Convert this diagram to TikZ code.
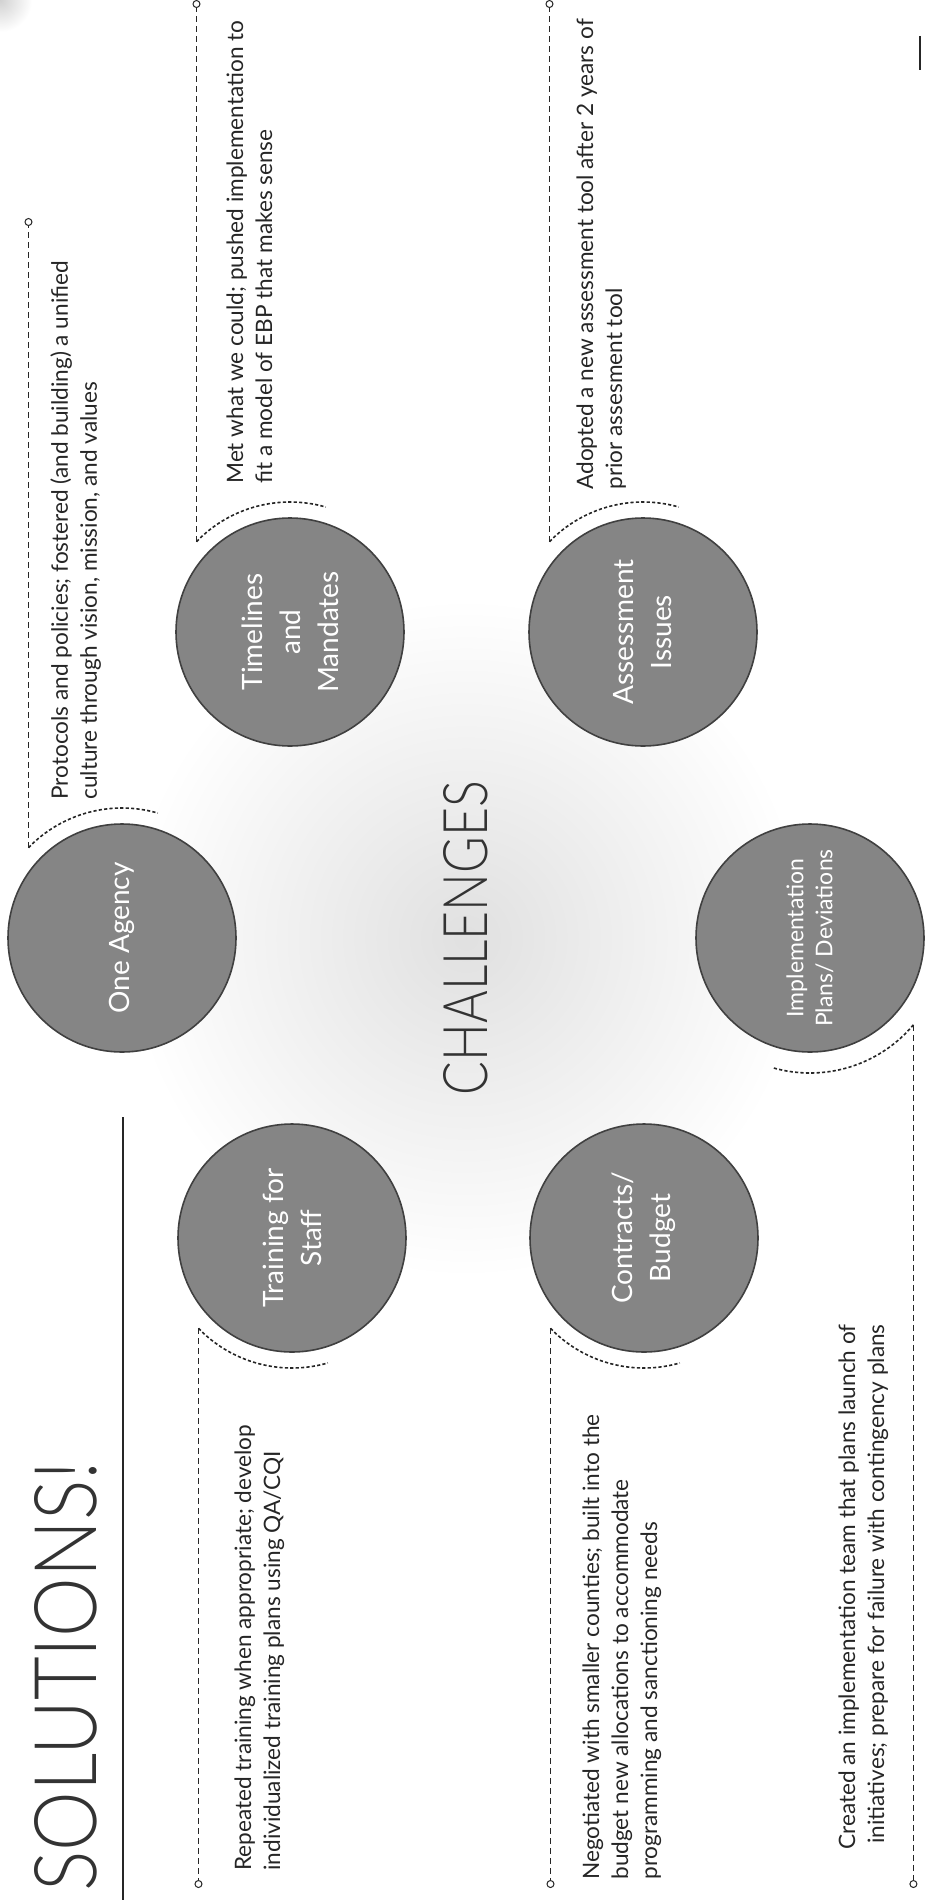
\documentclass[tikz,border=0pt]{standalone}
\usepackage{fontspec}
\setmainfont{Lato}
\IfFontExistsTF{Lato Light}{\newfontfamily\thinfont{Lato Light}}{\newfontfamily\thinfont{Lato}}
\newfontfamily\labelfont{Lato}
\usetikzlibrary{calc}
\begin{document}
\begin{tikzpicture}[x=0.5pt,y=0.5pt,
  bubble/.style={circle, minimum size=114pt, inner sep=0pt, fill=black!48, draw=black!75,
    line width=0.8pt, text=white, align=center, rotate=90,
    font=\labelfont\fontsize{14}{19}\selectfont},
  smallbubble/.style={bubble, font=\labelfont\fontsize{11.5}{14.5}\selectfont},
  soltext/.style={rotate=90, anchor=north west, align=left, inner sep=0pt,
    text=black!85, font=\fontsize{11.3}{14.5}\selectfont},
  title/.style={rotate=90, inner sep=0pt, text=black!80},
  vdash/.style={draw=black!85, line width=0.6pt, dash pattern=on 3pt off 2pt},
  adash/.style={draw=black!85, line width=0.8pt, dash pattern=on 1.6pt off 1.1pt},
  endmark/.style={circle, draw=black!85, fill=white, line width=0.5pt,
    minimum size=3.5pt, inner sep=0pt},
]
\useasboundingbox (0,0) rectangle (929,-1900);
\fill[white] (0,0) rectangle (929,-1900);
% background speckle areas
\shade[inner color=black!12, outer color=white] (466,-938) circle (340);
\shade[inner color=black!18, outer color=white] (0,0) circle (32);

% challenge bubbles
\node[bubble] (oa) at (122,-938) {One Agency};
\node[bubble] (tm) at (290,-632) {Timelines\\and\\Mandates};
\node[bubble] (as) at (643,-632) {Assessment\\Issues};
\node[bubble] (tr) at (292,-1238) {Training for\\Staff};
\node[bubble] (cb) at (644,-1238) {Contracts/\\Budget};
\node[smallbubble] (ip) at (810,-938) {Implementation\\Plans/ Deviations};

% titles
\node[title] (ch) at (466,-938) {\resizebox{157pt}{22pt}{\thinfont CHALLENGES}};
\node[title, anchor=north west] (sol) at (34,-1892) {\resizebox{215pt}{31pt}{\thinfont SOLUTIONS!}};
\coordinate (rulet) at (123,-1117);
\coordinate (ruleb) at (123,-1900);
\draw[black!85, line width=0.7pt] (rulet) -- (ruleb);

% end-of-line levels
\coordinate (ytop) at (0,-4);
\coordinate (yoa) at (0,-222);
\coordinate (ybot) at (0,-1884);

% connectors: arcs round the bubbles and dashed leaders
\foreach \n/\a/\b/\r/\lev in {oa/136/74/130/yoa, tm/136/74/130/ytop, as/136/74/130/ytop,
                          tr/224/286/130/ybot, cb/224/286/130/ybot, ip/320/254/135/ybot}{
  \coordinate (\n a) at ($(\n.center)+(\a:\r)$);
  \coordinate (\n e) at (\n a |- \lev);
  \draw[adash] (\n a) arc[start angle=\a, end angle=\b, radius=\r];
  \draw[vdash] (\n a) -- (\n e);
  \node[endmark] (\n m) at (\n e) {};
}

% solution texts
\node[soltext] (t1) at (50,-800) {Protocols and policies; fostered (and building) a unified\\culture through vision, mission, and values};
\node[soltext] (t2) at (226,-484) {Met what we could; pushed implementation to\\fit a model of EBP that makes sense};
\node[soltext] (t3) at (576,-490) {Adopted a new assessment tool after 2 years of\\prior assesment tool};
\node[soltext] (t4) at (234,-1871) {Repeated training when appropriate; develop\\individualized training plans using QA/CQI};
\node[soltext] (t5) at (582,-1880) {Negotiated with smaller counties; built into the\\budget new allocations to accommodate\\programming and sanctioning needs};
\node[soltext, anchor=north east, align=right] (t6) at (838,-1324) {Created an implementation team that plans launch of\\initiatives; prepare for failure with contingency plans};

% page mark
\coordinate (pm1) at (920,-36);
\coordinate (pm2) at (920,-70);
\draw[black!85, line width=0.6pt] (pm1) -- (pm2);
\end{tikzpicture}
\end{document}
